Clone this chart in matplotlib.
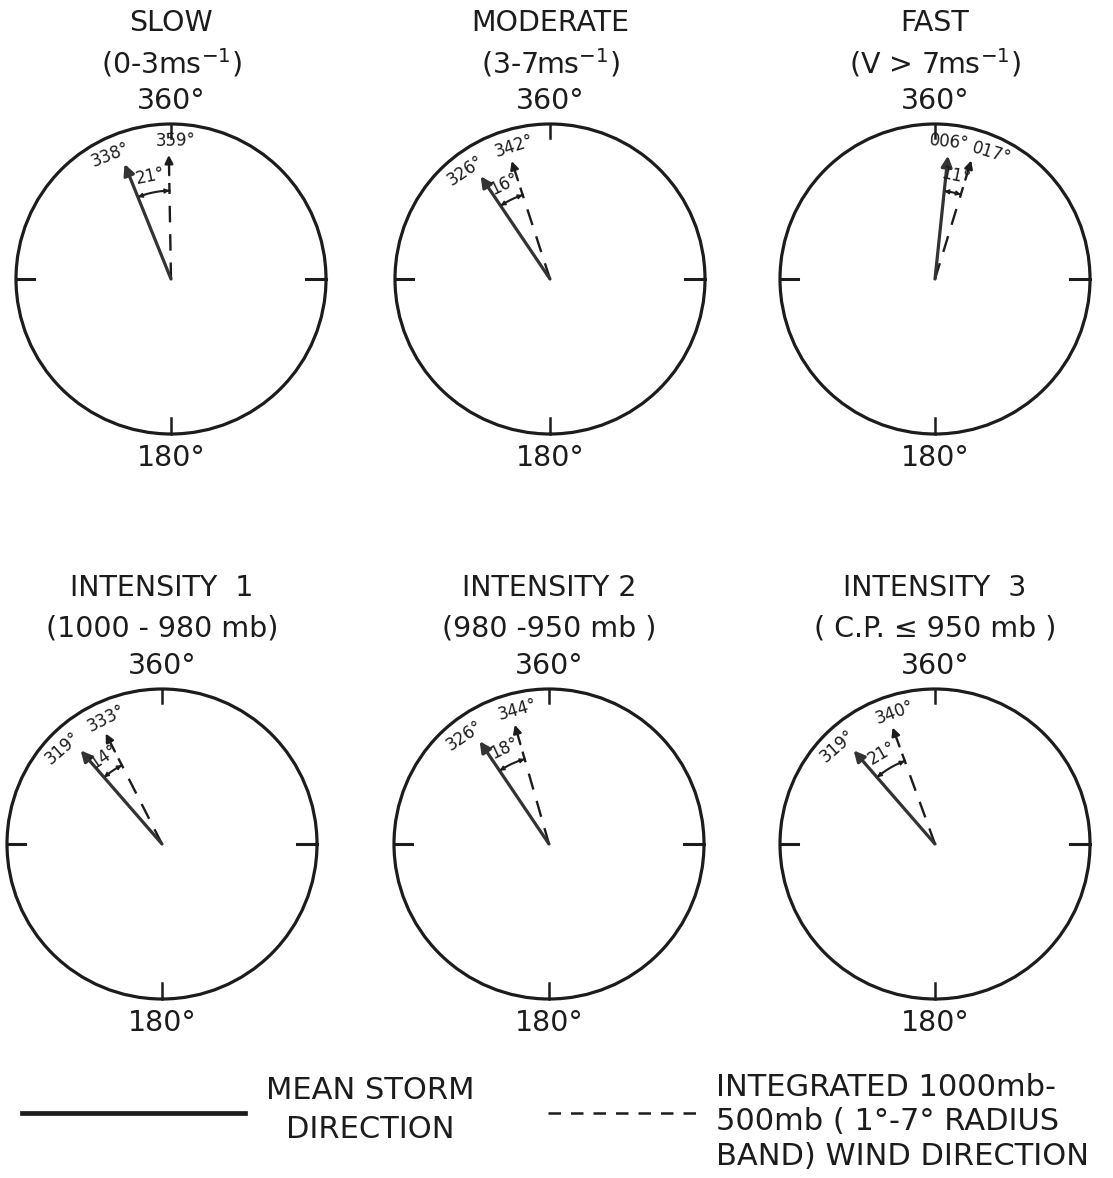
import numpy as np
import matplotlib
matplotlib.use("Agg")
import matplotlib.pyplot as plt
from matplotlib.patches import Circle

plt.rcParams["font.family"] = ["DejaVu Sans"]

# ---------------------------------------------------
# DATA
# ---------------------------------------------------
titles = ["SLOW", "MODERATE", "FAST",
          "INTENSITY  1", "INTENSITY 2", "INTENSITY  3"]
subtitles = [r"(0-3ms$^{-1}$)", r"(3-7ms$^{-1}$)", r"(V > 7ms$^{-1}$)",
             "(1000 - 980 mb)", "(980 -950 mb )", "( C.P. ≤ 950 mb )"]
mean_storm_dir = [338, 326, 6, 319, 326, 319]
wind_dir = [359, 342, 17, 333, 344, 340]

legend_solid = "MEAN STORM\nDIRECTION"
legend_dashed = "INTEGRATED 1000mb-\n500mb ( 1°-7° RADIUS\nBAND) WIND DIRECTION"

# ---------------------------------------------------
# LAYOUT (pixels)
# ---------------------------------------------------
W, H = 1113, 1178
centers = [(171, 279), (550, 279), (935, 279),
           (162, 844), (549, 844), (935, 844)]
mean_lab_off = [-4, -4, 0, -5, -4, -4]
wind_lab_off = [3, 3, 7, 3, 3, 3]
R = 155
INK = "#1c1c1c"

fig = plt.figure(figsize=(W / 100, H / 100), dpi=100)
ax = fig.add_axes([0, 0, 1, 1])
ax.set_xlim(0, W)
ax.set_ylim(H, 0)
ax.axis("off")


def pt(cx, cy, bearing, r):
    a = np.radians(bearing)
    return cx + r * np.sin(a), cy - r * np.cos(a)


def rot(bearing):
    r = -bearing % 360
    if r > 180:
        r -= 360
    return r


for i in range(6):
    cx, cy = centers[i]
    m, w = mean_storm_dir[i], wind_dir[i]
    d = (w - m) % 360
    if d > 180:
        d -= 360

    # titles
    ax.text(cx, cy - 256, titles[i], ha="center", va="center",
            fontsize=20.5, color=INK)
    ax.text(cx, cy - 216, subtitles[i], ha="center", va="center",
            fontsize=20.5, color=INK)
    ax.text(cx, cy - 178, "360°", ha="center", va="center",
            fontsize=20.5, color=INK)
    ax.text(cx, cy + 179, "180°", ha="center", va="center",
            fontsize=20.5, color=INK)

    # circle + ticks
    ax.add_patch(Circle((cx, cy), R, fill=False, lw=2.3, ec=INK))
    ax.plot([cx, cx], [cy - R, cy - R + 14], color=INK, lw=1.8)
    ax.plot([cx, cx], [cy + R, cy + R - 16], color=INK, lw=1.8)
    ax.plot([cx - R, cx - R + 18], [cy, cy], color=INK, lw=2.2)
    ax.plot([cx + R, cx + R - 20], [cy, cy], color=INK, lw=2.2)

    # mean storm direction (solid arrow)
    tip = pt(cx, cy, m, 0.8 * R)
    ax.annotate("", xy=tip, xytext=(cx, cy),
                arrowprops=dict(arrowstyle="-|>", lw=2.3, color="#333333",
                                mutation_scale=16, shrinkA=0, shrinkB=0))

    # wind direction (dashed line + small arrow)
    p1 = pt(cx, cy, w, 0.62 * R)
    ax.plot([cx, p1[0]], [cy, p1[1]], color=INK, lw=1.7,
            linestyle=(0, (7, 5)))
    ax.annotate("", xy=pt(cx, cy, w, 0.8 * R), xytext=pt(cx, cy, w, 0.67 * R),
                arrowprops=dict(arrowstyle="-|>", lw=1.7, color=INK,
                                mutation_scale=12, shrinkA=0, shrinkB=0))

    # angle arc between the two directions
    ra = 0.57 * R
    angs = np.linspace(m, m + d, 30)
    xs, ys = pt(cx, cy, angs, ra)
    ax.plot(xs, ys, color=INK, lw=1.5)
    for end, prev in [(m, m + d * 0.25), (m + d, m + d * 0.75)]:
        ax.annotate("", xy=pt(cx, cy, end, ra), xytext=pt(cx, cy, prev, ra),
                    arrowprops=dict(arrowstyle="-|>", lw=1.0, color=INK,
                                    mutation_scale=7, shrinkA=0, shrinkB=0))
    mid = m + d / 2
    ax.text(*pt(cx, cy, mid, 0.68 * R), f"{abs(d)}°", ha="center",
            va="center", rotation=rot(mid), fontsize=12, color=INK)

    # direction labels
    ax.text(*pt(cx, cy, m + mean_lab_off[i], 0.89 * R), f"{m:03d}°",
            ha="center", va="center", rotation=rot(m), fontsize=12, color=INK)
    ax.text(*pt(cx, cy, w + wind_lab_off[i], 0.89 * R), f"{w:03d}°",
            ha="center", va="center", rotation=rot(w), fontsize=12, color=INK)

# ---------------------------------------------------
# LEGEND
# ---------------------------------------------------
ax.plot([22, 245], [1113, 1113], color=INK, lw=3.4)
ax.text(370, 1110, legend_solid, ha="center", va="center",
        fontsize=22, color=INK, linespacing=1.4)
ax.plot([548, 705], [1113, 1113], color=INK, lw=1.8, linestyle=(0, (5, 4)))
ax.text(716, 1122, legend_dashed, ha="left", va="center",
        fontsize=22, color=INK, linespacing=1.22)

fig.savefig("out.png", dpi=100, facecolor="white")
